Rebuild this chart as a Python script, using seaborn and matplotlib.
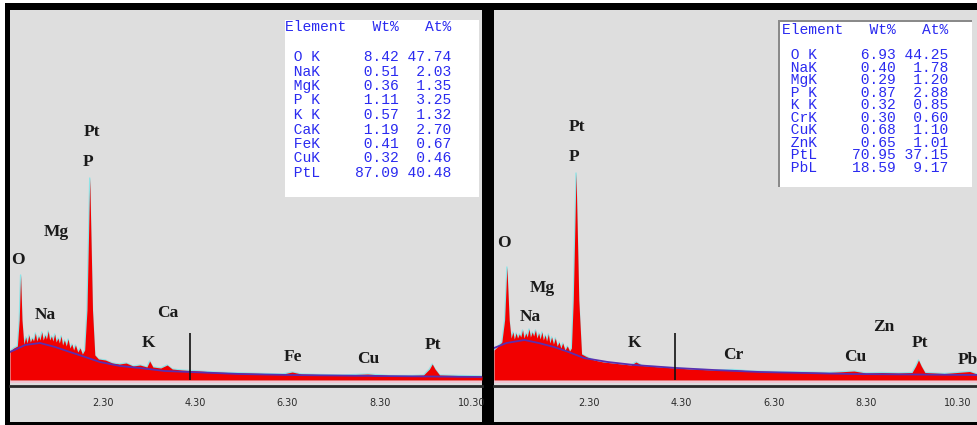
"""
EDS spectra of two samples (left / right panels) with element quantification tables.
"""
import numpy as np
import pandas as pd
import matplotlib.pyplot as plt
import seaborn as sns
from matplotlib.patches import Rectangle

sns.set_style("white")
plt.rcParams["font.family"] = ["DejaVu Sans"]

# ---------------------------------------------------------
# DATA (energy in keV, counts)
# ---------------------------------------------------------
left_energy = [0.28, 0.36, 0.44, 0.48, 0.51, 0.54, 0.58, 0.62, 0.65, 0.69, 0.72, 0.76,
               0.79, 0.83, 0.86, 0.90, 0.93, 0.97, 1.00, 1.04, 1.07, 1.11, 1.14, 1.18,
               1.21, 1.25, 1.28, 1.32, 1.35, 1.39, 1.42, 1.46, 1.50, 1.54, 1.58, 1.62,
               1.66, 1.70, 1.75, 1.80, 1.85, 1.90, 1.95, 2.01, 2.07, 2.12, 2.20, 2.35,
               2.50, 2.65, 2.80, 2.95, 3.10, 3.25, 3.31, 3.38, 3.55, 3.69, 3.80, 4.00,
               4.19, 4.40, 4.70, 5.00, 5.40, 5.80, 6.20, 6.40, 6.60, 7.00, 7.50, 8.04,
               8.50, 9.00, 9.25, 9.38, 9.44, 9.50, 9.60, 10.00, 10.52]
left_counts = [290, 320, 340, 600, 1050, 600, 360, 430, 370, 450, 380, 420,
               390, 470, 390, 440, 400, 480, 400, 450, 410, 490, 400, 440,
               390, 460, 380, 420, 370, 440, 350, 400, 340, 410, 320, 360,
               300, 350, 280, 320, 260, 300, 700, 2020, 700, 250, 210, 200,
               170, 160, 170, 140, 150, 130, 190, 130, 120, 150, 110, 100,
               95, 90, 80, 75, 70, 65, 60, 80, 60, 55, 50, 60,
               45, 45, 50, 110, 160, 110, 50, 45, 40]
left_bg_energy = [0.28, 0.61, 0.93, 1.26, 1.58, 1.91, 2.23, 2.67, 3.10, 3.64, 4.19,
                  5.27, 6.36, 8.31, 10.52]
left_bg_counts = [280, 350, 370, 330, 280, 230, 180, 140, 120, 90, 80, 60, 50, 40, 30]

right_energy = [0.23, 0.30, 0.40, 0.46, 0.51, 0.56, 0.60, 0.64, 0.67, 0.71, 0.74, 0.78,
                0.81, 0.85, 0.88, 0.92, 0.95, 0.99, 1.02, 1.06, 1.09, 1.13, 1.16, 1.20,
                1.23, 1.27, 1.30, 1.34, 1.37, 1.41, 1.44, 1.48, 1.52, 1.56, 1.60, 1.64,
                1.68, 1.72, 1.77, 1.82, 1.87, 1.91, 1.95, 2.01, 2.07, 2.13, 2.25, 2.40,
                2.60, 2.80, 3.00, 3.20, 3.31, 3.45, 3.70, 4.00, 4.19, 4.50, 5.00, 5.41,
                5.80, 6.40, 7.00, 7.50, 8.04, 8.30, 8.64, 9.00, 9.30, 9.38, 9.44, 9.50,
                9.58, 10.00, 10.55, 10.71]
right_counts = [300, 330, 380, 600, 1130, 600, 420, 480, 410, 470, 420, 460,
                430, 500, 420, 470, 430, 510, 430, 480, 440, 500, 420, 470,
                410, 480, 400, 450, 390, 460, 370, 430, 360, 420, 340, 380,
                320, 370, 300, 340, 290, 320, 800, 2070, 800, 260, 230, 200,
                180, 170, 160, 150, 180, 145, 135, 125, 120, 110, 100, 105,
                90, 85, 80, 75, 90, 70, 75, 70, 75, 140, 200, 140,
                75, 65, 85, 60]
right_bg_energy = [0.23, 0.50, 0.89, 1.20, 1.53, 1.85, 2.18, 2.70, 3.27, 4.19,
                   5.00, 6.00, 8.00, 10.71]
right_bg_counts = [320, 370, 400, 370, 330, 280, 220, 180, 150, 120, 100, 80, 60, 50]

left_peak_names = ["O", "Na", "Mg", "P", "Pt", "K", "Ca", "Fe", "Cu", "Pt"]
left_peak_energy = [0.46, 1.04, 1.28, 1.97, 2.06, 3.28, 3.71, 6.42, 8.05, 9.46]
left_peak_height = [1200, 650, 1480, 2180, 2480, 370, 670, 230, 210, 350]

right_peak_names = ["O", "Na", "Mg", "P", "Pt", "K", "Cr", "Cu", "Zn", "Pt", "Pb"]
right_peak_energy = [0.45, 1.01, 1.28, 1.97, 2.04, 3.27, 5.42, 8.06, 8.69, 9.47, 10.52]
right_peak_height = [1370, 630, 920, 2230, 2530, 370, 250, 230, 530, 370, 200]

left_marker_e = 4.19
right_marker_e = 4.16

tick_values = [2.30, 4.30, 6.30, 8.30, 10.30]
tick_labels = ["2.30", "4.30", "6.30", "8.30", "10.30"]

left_elements = ["O K", "NaK", "MgK", "P K", "K K", "CaK", "FeK", "CuK", "PtL"]
left_wt = [8.42, 0.51, 0.36, 1.11, 0.57, 1.19, 0.41, 0.32, 87.09]
left_at = [47.74, 2.03, 1.35, 3.25, 1.32, 2.70, 0.67, 0.46, 40.48]

right_elements = ["O K", "NaK", "MgK", "P K", "K K", "CrK", "CuK", "ZnK", "PtL", "PbL"]
right_wt = [6.93, 0.40, 0.29, 0.87, 0.32, 0.30, 0.68, 0.65, 70.95, 18.59]
right_at = [44.25, 1.78, 1.20, 2.88, 0.85, 0.60, 1.10, 1.01, 37.15, 9.17]

# ---------------------------------------------------------
# FIGURE + PANEL FRAMES (pixel helpers)
# ---------------------------------------------------------
W, H = 977, 425
GRAY = "#dedede"
BLUE = "#2a2af0"
fig = plt.figure(figsize=(W / 100, H / 100), dpi=100)
fig.patch.set_facecolor("white")


def fx(x):
    return x / W


def fy(y):
    return 1 - y / H


def box(x0, y0, x1, y1, color, z=-10):
    fig.add_artist(Rectangle((fx(x0), fy(y1)), fx(x1) - fx(x0), fy(y0) - fy(y1),
                             transform=fig.transFigure, facecolor=color,
                             edgecolor="none", zorder=z))


box(5, 3, W, H, "black")
box(10, 10, 482, 422, GRAY, z=-9)
box(494, 10, W, 422, GRAY, z=-9)

ax_l = fig.add_axes([fx(10), fy(386), fx(482) - fx(10), fy(10) - fy(386)])
ax_r = fig.add_axes([fx(494), fy(386), fx(W) - fx(494), fy(10) - fy(386)])


def draw_panel(ax, energy, counts, bg_e, bg_c, names, pe, ph, marker_e, xlim):
    df = pd.DataFrame({"energy": energy, "counts": counts})
    bg = pd.DataFrame({"energy": bg_e, "counts": bg_c})
    ax.set_facecolor("none")
    sns.lineplot(data=df, x="energy", y="counts", ax=ax, color="#8fe3e6",
                 lw=1.0, zorder=2)
    ax.fill_between(df["energy"], 0, df["counts"], color="#f20000", lw=0, zorder=3)
    sns.lineplot(data=bg, x="energy", y="counts", ax=ax, color="#5a2fb0",
                 lw=1.3, zorder=4)
    ax.axhline(-15, color="#f5c0d0", lw=1.2, zorder=2)
    ax.vlines(marker_e, 0, 470, color="#111111", lw=1.2, zorder=5)
    for name, e, c in zip(names, pe, ph):
        ax.text(e, c, name, ha="center", va="center", fontsize=12.5,
                fontweight="bold", color="#1a1a1a",
                family=["Liberation Serif", "DejaVu Serif"], zorder=6)
    ax.set_xlim(xlim)
    ax.set_ylim(-60, 3700)
    ax.set_xticks(tick_values)
    ax.set_xticklabels(tick_labels)
    ax.set_yticks([])
    ax.set_xlabel("")
    ax.set_ylabel("")
    for s in ["top", "left", "right"]:
        ax.spines[s].set_visible(False)
    ax.spines["bottom"].set_color("#2a2a2a")
    ax.spines["bottom"].set_linewidth(2)
    ax.tick_params(axis="x", direction="inout", length=4, width=1, color="#222222",
                   pad=7, labelsize=7, labelcolor="#2a2a2a")


draw_panel(ax_l, left_energy, left_counts, left_bg_energy, left_bg_counts,
           left_peak_names, left_peak_energy, left_peak_height, left_marker_e,
           (0.28, 10.52))
draw_panel(ax_r, right_energy, right_counts, right_bg_energy, right_bg_counts,
           right_peak_names, right_peak_energy, right_peak_height, right_marker_e,
           (0.23, 10.71))

# ---------------------------------------------------------
# QUANTIFICATION TABLES
# ---------------------------------------------------------
box(285, 20, 479, 197, "white", z=5)
box(778, 20, 972, 187, "#8a8a8a", z=5)
box(780, 22, 972, 187, "white", z=5)


def table(x0, y_head, y_first, step, elements, wt, at):
    header = "Element" + "Wt%".rjust(6) + "At%".rjust(6)
    fig.text(fx(x0), fy(y_head), header, family="Liberation Mono", fontsize=10.5,
             color=BLUE, ha="left", va="center", zorder=7)
    for i, (el, w, a) in enumerate(zip(elements, wt, at)):
        row = " " + el.ljust(4) + f"{w:.2f}".rjust(8) + f"{a:.2f}".rjust(6)
        fig.text(fx(x0), fy(y_first + i * step), row, family="Liberation Mono",
                 fontsize=10.5, color=BLUE, ha="left", va="center", zorder=7)


table(285, 27, 57, 14.5, left_elements, left_wt, left_at)
table(782, 30, 55, 12.55, right_elements, right_wt, right_at)

fig.savefig("out.png", dpi=100, facecolor=fig.get_facecolor())
